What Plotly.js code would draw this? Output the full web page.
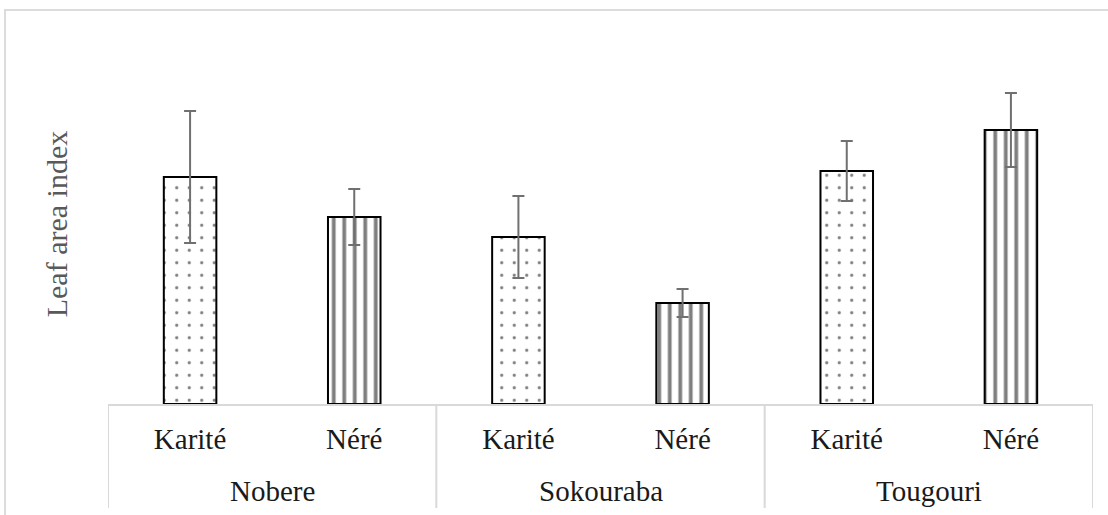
<!DOCTYPE html>
<html>
<head>
<meta charset="utf-8">
<script src="https://cdn.plot.ly/plotly-3.0.1.min.js"></script>
<style>
html,body{margin:0;padding:0;background:#fff;}
#chart{width:1108px;height:515px;}
</style>
</head>
<body>
<div id="chart"></div>
<script>
// Data (no y ticks shown; arbitrary LAI units)
const sites = ["Nobere", "Nobere", "Sokouraba", "Sokouraba", "Tougouri", "Tougouri"];
const species = ["Karité", "Néré", "Karité", "Néré", "Karité", "Néré"];
const laiMean = [2.27, 1.87, 1.67, 1.01, 2.33, 2.74];
const laiErr = [0.66, 0.28, 0.41, 0.14, 0.30, 0.37];

const FONT = "Liberation Serif, Times New Roman, serif";
const xKeys = sites.map((s, i) => s + " / " + species[i]);
const patternShapes = species.map(s => s === "Karité" ? "." : "|");

// group structure derived from data
const groupNames = [...new Set(sites)];
const groupIdx = groupNames.map(g => sites.map((s, i) => s === g ? i : -1).filter(i => i >= 0));

const PW = 360; // plot height px (for paper-fraction conversions)

const trace = {
  type: "bar",
  x: xKeys,
  y: laiMean,
  width: 0.32,
  marker: {
    color: "#ffffff",
    line: {color: "#000000", width: 2},
    pattern: {
      shape: patternShapes,
      fgcolor: "#000000",
      bgcolor: "#ffffff",
      fillmode: "overlay",
      size: species.map(s => s === "Karité" ? 12.5 : 10.5),
      solidity: species.map(s => s === "Karité" ? 0.05 : 0.36)
    }
  },
  error_y: {
    type: "data",
    array: laiErr,
    visible: true,
    color: "#707070",
    thickness: 2,
    width: 6
  },
  hoverinfo: "skip"
};

const annotations = groupNames.map((g, k) => ({
  xref: "x", yref: "paper",
  x: (groupIdx[k][0] + groupIdx[k][groupIdx[k].length - 1]) / 2,
  y: (404 - 491) / PW,
  text: g,
  showarrow: false,
  xanchor: "center", yanchor: "middle",
  font: {family: FONT, size: 29, color: "#1a1a1a"}
}));

const dividers = [];
groupIdx.forEach((idx, k) => {
  if (k === 0) dividers.push(idx[0] - 0.5);
  dividers.push(idx[idx.length - 1] + 0.5);
});

const shapes = dividers.map(xv => ({
  type: "line", xref: "x", yref: "paper",
  x0: xv, x1: xv, y0: 0, y1: (404 - 508) / PW,
  line: {color: "#d9d9d9", width: 2}
}));
shapes.push({
  type: "rect",
  xref: "paper", yref: "paper",
  x0: (5 - 108) / 985, x1: (1125 - 108) / 985,
  y0: (404 - 530) / PW, y1: (404 - 10) / PW,
  line: {color: "#dcdcdc", width: 2},
  fillcolor: "rgba(0,0,0,0)",
  layer: "below"
});

const layout = {
  width: 1108,
  height: 515,
  margin: {l: 108, r: 15, t: 44, b: 111},
  paper_bgcolor: "#ffffff",
  plot_bgcolor: "#ffffff",
  showlegend: false,
  bargap: 0,
  font: {family: FONT, color: "#1a1a1a"},
  xaxis: {
    type: "category",
    range: [-0.5, xKeys.length - 0.5],
    tickvals: xKeys,
    ticktext: species,
    showline: true,
    linecolor: "#d9d9d9",
    linewidth: 2,
    showgrid: false,
    zeroline: false,
    ticks: "",
    ticklabelstandoff: 8,
    tickfont: {family: FONT, size: 29, color: "#1a1a1a"}
  },
  yaxis: {
    range: [0, 3.60],
    showticklabels: false,
    showgrid: false,
    zeroline: false,
    showline: false,
    ticks: "",
    title: {
      text: "Leaf area index",
      font: {family: FONT, size: 30, color: "#595959"},
      standoff: 30
    }
  },
  annotations: annotations,
  shapes: shapes
};

Plotly.newPlot("chart", [trace], layout, {displayModeBar: false, staticPlot: true});
</script>
</body>
</html>
